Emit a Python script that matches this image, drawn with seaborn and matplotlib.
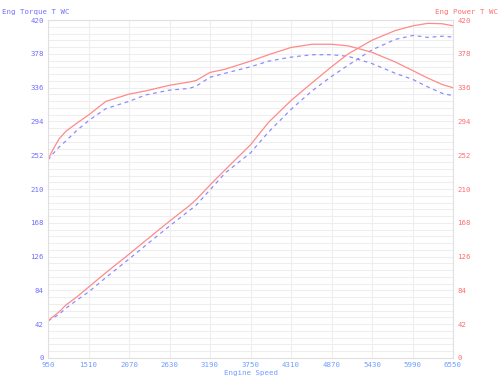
import matplotlib
matplotlib.use("Agg")
import matplotlib.pyplot as plt
import seaborn as sns
import pandas as pd
import numpy as np

rpm = [950, 1000, 1100, 1200, 1350, 1510, 1750, 2070, 2300, 2630, 2900, 3000, 3190,
       3400, 3750, 4000, 4310, 4600, 4870, 5100, 5430, 5750, 6000, 6200, 6400, 6550]

torque_red = [246, 256, 272, 282, 292, 302, 319, 328, 332, 339, 343, 345, 355,
              359, 369, 377, 386, 390, 390, 388, 380, 368, 357, 348, 340, 336]
torque_blue = [246, 252, 262, 270, 283, 295, 310, 319, 327, 333, 335, 338, 349,
               354, 362, 369, 374, 377, 377, 375, 366, 354, 346, 337, 329, 326]
power_red = [46, 50, 57, 66, 76, 88, 106, 129, 146, 170, 189, 197, 215,
             234, 265, 293, 320, 342, 362, 378, 395, 407, 413, 416, 415.5, 413]
power_blue = [46, 49, 54, 62, 72, 82, 100, 123, 140, 164, 183, 190, 209,
              230, 255, 281, 309, 332, 350, 364, 383, 396, 401, 398.5, 400, 399]

x_ticks = [950, 1510, 2070, 2630, 3190, 3750, 4310, 4870, 5430, 5990, 6550]
y_ticks = [0, 42, 84, 126, 168, 210, 252, 294, 336, 378, 420]

left_title = "Eng Torque T WC"
right_title = "Eng Power T WC"
x_title = "Engine Speed"

RED = "#ff8a8a"
BLUE = "#8c8cff"
LBL_LEFT = "#6f6fff"
LBL_RIGHT = "#ff6f6f"
LBL_X = "#6f9dff"
GRID = "#eeeeee"

sns.set_theme(style="white")
plt.rcParams['font.family'] = ['DejaVu Sans Mono']

fig = plt.figure(figsize=(5, 3.87), dpi=100)
ax = fig.add_axes([0.096, 0.075, 0.81, 0.873])

df = pd.DataFrame({"rpm": rpm, "tr": torque_red, "tb": torque_blue,
                   "pr": power_red, "pb": power_blue})

sns.lineplot(data=df, x="rpm", y="tb", ax=ax, color=BLUE, linewidth=0.9,
             linestyle=(0, (3, 3)))
sns.lineplot(data=df, x="rpm", y="pb", ax=ax, color=BLUE, linewidth=0.9,
             linestyle=(0, (3, 3)))
sns.lineplot(data=df, x="rpm", y="tr", ax=ax, color=RED, linewidth=0.9)
sns.lineplot(data=df, x="rpm", y="pr", ax=ax, color=RED, linewidth=0.9)

ax.set_xlim(950, 6550)
ax.set_ylim(0, 420)
ax.set_xticks(x_ticks)
ax.set_yticks(y_ticks)
ax.set_yticks(np.arange(0, 420.01, 8.4), minor=True)
ax.grid(True, which="major", axis="both", color=GRID, linewidth=0.8)
ax.grid(True, which="minor", axis="y", color=GRID, linewidth=0.8)
ax.set_axisbelow(True)
ax.tick_params(axis="both", which="both", length=0, labelsize=5.3, pad=3)
ax.tick_params(axis="y", colors=LBL_LEFT)
ax.tick_params(axis="x", colors=LBL_X)
ax.set_xlabel(x_title, fontsize=5.3, color=LBL_X, labelpad=1)
ax.set_ylabel("")
for s in ax.spines.values():
    s.set_color("#e0e0e0")
    s.set_linewidth(0.8)

ax2 = ax.twinx()
ax2.set_ylim(0, 420)
ax2.set_yticks(y_ticks)
ax2.tick_params(axis="y", length=0, labelsize=5.3, colors=LBL_RIGHT, pad=3)
for s in ax2.spines.values():
    s.set_visible(False)
ax2.grid(False)

fig.text(0.004, 0.96, left_title, fontsize=5.3, color=LBL_LEFT, ha="left", va="bottom")
fig.text(0.996, 0.96, right_title, fontsize=5.3, color=LBL_RIGHT, ha="right", va="bottom")

fig.savefig("out.png", dpi=100)
